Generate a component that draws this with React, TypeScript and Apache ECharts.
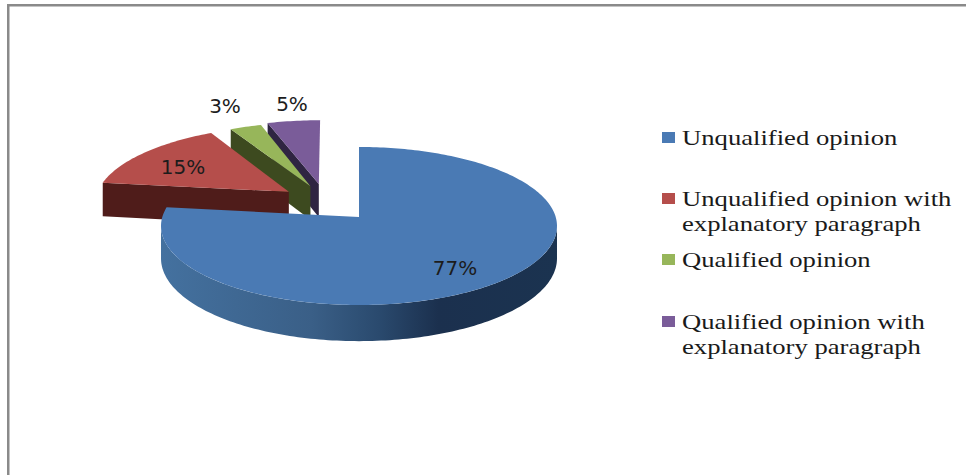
import React, { useEffect, useRef } from "react";
import * as echarts from "echarts";

const categories = [
  "Unqualified opinion",
  "Unqualified opinion with\nexplanatory paragraph",
  "Qualified opinion",
  "Qualified opinion with\nexplanatory paragraph",
];
const shares = [77, 15, 3, 5];

const topColors = ["#4a7ab4", "#b54e4b", "#97b65a", "#7a5c99"];
const wallColors = ["#1b3350", "#4f1c1a", "#3d4a1f", "#2f2542"];
const explode = [0, 0.45, 0.45, 0.45];
const nudge = [[0, 0], [1, -6], [-15, 0], [-27, 0]];
const depth = [32, 35, 35, 35];
const labelPos = [[455, 268], [183, 167], [225, 106], [292, 104]];
const legendTop = [132, 193, 254, 316];
const legendBaseline = [148, 209, 270, 332];

const CX = 359, CY = 217, RX = 196.7, RY = 78, K = 0.1139;
const total = shares.reduce((a, b) => a + b, 0);

function project(x: number, z: number, down = 0): [number, number] {
  const w = 1 + K * z;
  return [CX + (RX * x) / w, CY - (RY * z) / w + down / w];
}

function arc(from: number, to: number) {
  const pts: [number, number][] = [];
  const n = Math.max(4, Math.ceil(Math.abs(to - from) / 0.02));
  for (let i = 0; i <= n; i++) {
    const t = from + ((to - from) * i) / n;
    pts.push([Math.sin(t), Math.cos(t)]);
  }
  return pts;
}

const renderItem = (_: any, api: any) => {
  const idx = api.value(0);
  const before = shares.slice(0, idx).reduce((a, b) => a + b, 0);
  const a0 = (before / total) * Math.PI * 2;
  const a1 = a0 + (api.value(1) / total) * Math.PI * 2;
  const mid = (a0 + a1) / 2;
  const ox = Math.sin(mid) * explode[idx];
  const oz = Math.cos(mid) * explode[idx];
  const [nx, ny] = nudge[idx];
  const P = (x: number, z: number, d = 0): number[] => {
    const p = project(x + ox, z + oz, d);
    return [p[0] + nx, p[1] + ny];
  };
  const D = depth[idx];
  const children: any[] = [];
  if (idx === 0) {
    const sil = Math.acos(-K);
    const rim = arc(sil, Math.PI * 2 - sil);
    children.push({
      type: "polygon",
      shape: {
        points: [
          ...rim.map(([x, z]) => P(x, z)),
          ...rim.slice().reverse().map(([x, z]) => P(x, z, D)),
        ],
      },
      style: {
        fill: new echarts.graphic.LinearGradient(1, 0, 0, 0, [
          { offset: 0, color: "#1b3350" },
          { offset: 0.3, color: "#1b304e" },
          { offset: 0.45, color: "#2a4a6e" },
          { offset: 0.62, color: "#3a5f87" },
          { offset: 1, color: "#44719f" },
        ]),
      },
    });
  } else {
    const tip = [Math.sin(a0), Math.cos(a0)];
    children.push({
      type: "polygon",
      shape: {
        points: [P(tip[0], tip[1]), P(0, 0), P(0, 0, D), P(tip[0], tip[1], D)],
      },
      style: { fill: wallColors[idx] },
    });
  }
  children.push({
    type: "polygon",
    shape: { points: [P(0, 0), ...arc(a0, a1).map(([x, z]) => P(x, z))] },
    style: { fill: topColors[idx] },
  });
  children.push({
    type: "text",
    z2: 10,
    style: {
      text: api.value(1) + "%",
      x: labelPos[idx][0],
      y: labelPos[idx][1],
      fill: "#1c1c1c",
      fontFamily: "'DejaVu Sans'",
      fontSize: 20,
      textAlign: "center",
      textVerticalAlign: "middle",
    },
  });
  return { type: "group", children };
};

export default function App() {
  const ref = useRef<HTMLDivElement>(null);
  useEffect(() => {
    document.body.style.margin = "0";
    const chart = echarts.init(ref.current!, null, { renderer: "svg" });
    const drawOrder = [3, 2, 1, 0];
    const legend: any[] = [];
    categories.forEach((name, i) => {
      legend.push({
        type: "rect",
        shape: { x: 662, y: legendTop[i], width: 13, height: 11 },
        style: { fill: topColors[i] },
      });
      name.split("\n").forEach((line, j) => {
        legend.push({
          type: "text",
          x: 682,
          y: legendBaseline[i] + j * 25.5,
          scaleX: 1.24,
          style: {
            text: line,
            x: 0,
            y: 0,
            fill: "#1a1a1a",
            fontFamily: "'Liberation Serif'",
            fontSize: 21.5,
            textVerticalAlign: "bottom",
          },
        });
      });
    });
    chart.setOption({
      animation: false,
      backgroundColor: "#ffffff",
      graphic: [
        { type: "rect", shape: { x: 7, y: 4, width: 959, height: 2.5 }, style: { fill: "#8a8a8a" } },
        { type: "rect", shape: { x: 7, y: 4, width: 2.5, height: 471 }, style: { fill: "#8a8a8a" } },
        ...legend,
      ],
      series: [
        {
          type: "custom",
          coordinateSystem: "none",
          renderItem,
          silent: true,
          data: drawOrder.map((i) => [i, shares[i]]),
        },
      ],
    });
    return () => chart.dispose();
  }, []);
  return <div ref={ref} style={{ width: 966, height: 475 }} />;
}
